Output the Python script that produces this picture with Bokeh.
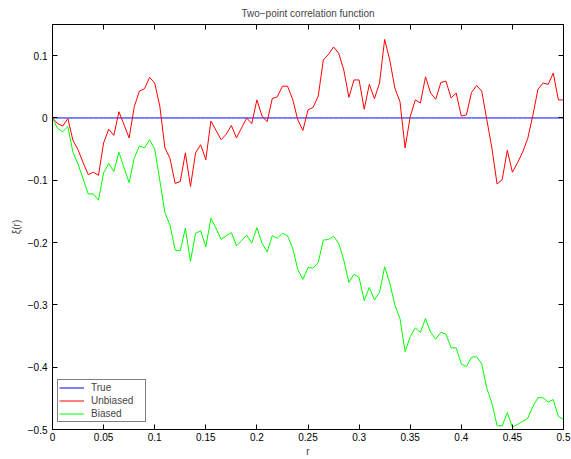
from bokeh.plotting import figure
from bokeh.models import LinearAxis, FixedTicker, Legend, LegendItem, Range1d
from bokeh.embed import file_html
from bokeh.resources import INLINE

r = [round(0.005 * i, 3) for i in range(101)]

true_xi = [0.0] * 101

unbiased = [0.000, -0.009, -0.013, -0.001, -0.036, -0.051, -0.072, -0.091, -0.087, -0.092,
            -0.040, -0.018, -0.028, 0.010, -0.011, -0.032, 0.018, 0.043, 0.047, 0.065,
            0.056, 0.019, -0.048, -0.065, -0.105, -0.102, -0.056, -0.110, -0.056, -0.043,
            -0.067, -0.005, -0.020, -0.035, -0.026, -0.012, -0.032, -0.016, 0.000, -0.009,
            0.029, 0.003, -0.006, 0.031, 0.034, 0.051, 0.051, 0.030, -0.003, -0.020,
            0.013, 0.017, 0.035, 0.093, 0.102, 0.114, 0.104, 0.077, 0.033, 0.061,
            0.061, 0.014, 0.054, 0.031, 0.056, 0.126, 0.093, 0.048, 0.026, -0.048,
            0.002, 0.029, 0.024, 0.066, 0.040, 0.030, 0.057, 0.059, 0.032, 0.040,
            0.003, 0.005, 0.041, 0.052, 0.043, -0.003, -0.049, -0.106, -0.099, -0.052,
            -0.087, -0.072, -0.055, -0.033, 0.004, 0.046, 0.056, 0.054, 0.072, 0.029,
            0.029]

biased = [0.000, -0.017, -0.022, -0.014, -0.055, -0.074, -0.098, -0.122, -0.122, -0.132,
          -0.088, -0.073, -0.086, -0.055, -0.080, -0.104, -0.064, -0.045, -0.048, -0.035,
          -0.050, -0.100, -0.152, -0.172, -0.212, -0.213, -0.177, -0.230, -0.185, -0.181,
          -0.207, -0.161, -0.177, -0.195, -0.189, -0.184, -0.205, -0.197, -0.188, -0.201,
          -0.176, -0.201, -0.215, -0.189, -0.193, -0.185, -0.189, -0.209, -0.243, -0.259,
          -0.240, -0.241, -0.232, -0.196, -0.195, -0.190, -0.201, -0.228, -0.264, -0.251,
          -0.256, -0.293, -0.272, -0.292, -0.280, -0.239, -0.265, -0.300, -0.322, -0.375,
          -0.351, -0.337, -0.344, -0.322, -0.344, -0.355, -0.344, -0.347, -0.369, -0.369,
          -0.395, -0.399, -0.384, -0.383, -0.395, -0.434, -0.458, -0.494, -0.494, -0.473,
          -0.496, -0.492, -0.487, -0.482, -0.463, -0.449, -0.449, -0.456, -0.452, -0.479,
          -0.484]

x_ticks = [0, 0.05, 0.1, 0.15, 0.2, 0.25, 0.3, 0.35, 0.4, 0.45, 0.5]
y_ticks = [-0.5, -0.4, -0.3, -0.2, -0.1, 0, 0.1]

FONT = "Liberation Sans"
FS = "10px"

p = figure(width=571, height=459, output_backend="svg", toolbar_location=None,
           x_range=Range1d(0, 0.5), y_range=Range1d(-0.5, 0.15),
           title="Two\u2212point correlation function",
           min_border_left=52, min_border_right=8, min_border_top=6, min_border_bottom=10)
p.title.align = "center"
p.title.text_font = FONT
p.title.text_font_size = FS
p.title.text_font_style = "normal"
p.title.standoff = 11

p.xgrid.visible = False
p.ygrid.visible = False
p.outline_line_color = "black"
p.outline_line_width = 1
p.background_fill_color = "white"
p.border_fill_color = "white"

for ax in (p.xaxis[0], p.yaxis[0]):
    ax.major_tick_in = 5
    ax.major_tick_out = 0
    ax.minor_tick_line_color = None
    ax.major_label_text_font = FONT
    ax.major_label_text_font_size = FS
    ax.major_label_text_color = "black"
    ax.axis_label_text_font = FONT
    ax.axis_label_text_font_size = FS
    ax.axis_label_text_font_style = "normal"
    ax.axis_line_color = "black"

p.xaxis[0].ticker = FixedTicker(ticks=x_ticks)
p.yaxis[0].ticker = FixedTicker(ticks=y_ticks)
p.xaxis[0].major_label_overrides = {t: ("0" if t == 0 else ("%g" % t)) for t in x_ticks}
p.yaxis[0].major_label_overrides = {t: ("0" if t == 0 else ("%g" % t).replace("-", "\u2212")) for t in y_ticks}
p.xaxis[0].axis_label = "r"
p.yaxis[0].axis_label = "\u03be(r)"
p.xaxis[0].axis_label_standoff = 2
p.yaxis[0].axis_label_standoff = 3
p.xaxis[0].major_label_standoff = 3
p.yaxis[0].major_label_standoff = 5

top = LinearAxis(ticker=FixedTicker(ticks=x_ticks), major_tick_in=5, major_tick_out=0,
                 minor_tick_line_color=None, major_label_text_font_size="0px",
                 major_label_text_color=None, major_label_standoff=0)
right = LinearAxis(ticker=FixedTicker(ticks=y_ticks), major_tick_in=5, major_tick_out=0,
                   minor_tick_line_color=None, major_label_text_font_size="0px",
                   major_label_text_color=None, major_label_standoff=0)
p.add_layout(top, "above")
p.add_layout(right, "right")

l_true = p.line(r, true_xi, line_color="#0000ff", line_width=1)
l_unb = p.line(r, unbiased, line_color="#ff0000", line_width=1)
l_bia = p.line(r, biased, line_color="#00ff00", line_width=1)

legend = Legend(items=[LegendItem(label="True", renderers=[l_true]),
                       LegendItem(label="Unbiased", renderers=[l_unb]),
                       LegendItem(label="Biased", renderers=[l_bia])],
                location=(5, 7), border_line_color="black", border_line_width=1,
                label_text_font=FONT, label_text_font_size=FS,
                glyph_width=25, glyph_height=13, label_height=13, spacing=0,
                label_width=53, padding=1, margin=0, label_standoff=7,
                background_fill_alpha=1)
p.add_layout(legend, "center")

open("out.html", "w").write(file_html(p, INLINE))
